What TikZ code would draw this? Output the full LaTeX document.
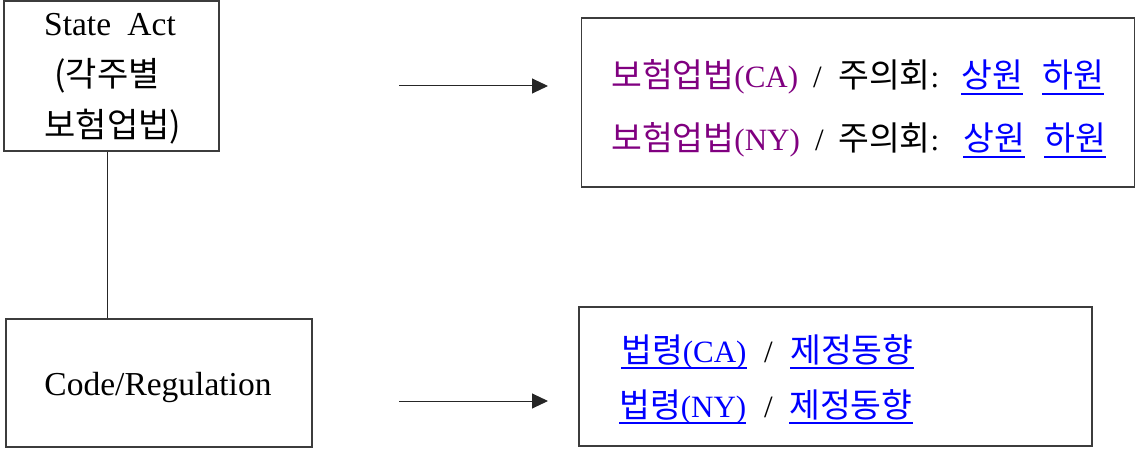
\documentclass[tikz,border=0pt]{standalone}
\usepackage{fontspec}
\setmainfont{Liberation Serif}
\newfontfamily\kr{Noto Sans CJK KR}
\usetikzlibrary{arrows.meta}
\definecolor{lawpurple}{RGB}{128,0,128}
\definecolor{linkblue}{RGB}{0,0,255}
\definecolor{boxgray}{RGB}{60,60,60}
\newcommand{\K}[1]{{\fontsize{33.5}{38}\selectfont\kr #1}}
\begin{document}
\begin{tikzpicture}[x=1pt,y=-1pt,
  box/.style={draw=boxgray,line width=1.2pt,rectangle,inner sep=0pt},
  txt/.style={inner sep=0pt,anchor=base west,font=\fontsize{31}{36}\selectfont},
  ctxt/.style={inner sep=0pt,anchor=base,font=\fontsize{33.5}{38}\selectfont},
  ckr/.style={inner sep=0pt,anchor=base,font=\fontsize{34}{38}\selectfont\kr},
  ul/.style={draw=linkblue,line width=1.6pt},
  arr/.style={draw=black!85,line width=1pt,-{Triangle[length=16pt,width=15pt]}}]
\useasboundingbox (0,0) rectangle (1136,449);
% boxes
\node[box,minimum width=215pt,minimum height=150pt] (sa) at (111.5,76) {};
\node[box,minimum width=306pt,minimum height=128pt] (cr) at (159,383) {};
\node[box,minimum width=553pt,minimum height=169pt] (tr) at (858,102.5) {};
\node[box,minimum width=513pt,minimum height=139pt] (br) at (835.5,376.5) {};
% left texts
\node[ctxt] (t1) at (110,36) {State\hspace{8pt} Act};
\node[ckr] (t2) at (107,87) {(각주별};
\node[ckr] (t3) at (113,138) {보험업법)};
\node[ctxt] (t4) at (158,395) {Code/Regulation};
% connector between left boxes
\coordinate (lk) at (107,0);
\draw[draw=black!85,line width=1pt] (sa.south -| lk) -- (cr.north -| lk);
% arrows
\coordinate (a1s) at (399,86); \coordinate (a1e) at (548,86);
\coordinate (a2s) at (399,401); \coordinate (a2e) at (548,401);
\draw[arr] (a1s) -- (a1e);
\draw[arr] (a2s) -- (a2e);
% top right lines
\node[txt,text=lawpurple] (p1) at (611,88) {\K{보험업법}(CA)};
\node[txt] (s1) at (813,88) {/};
\node[txt] (j1) at (838,88) {\K{주의회}:};
\node[txt,text=linkblue] (u1) at (961,88) {\K{상원}};
\node[txt,text=linkblue] (h1) at (1042,88) {\K{하원}};
\node[txt,text=lawpurple] (p2) at (611,151) {\K{보험업법}(NY)};
\node[txt] (s2) at (815,151) {/};
\node[txt] (j2) at (838,151) {\K{주의회}:};
\node[txt,text=linkblue] (u2) at (963,151) {\K{상원}};
\node[txt,text=linkblue] (h2) at (1044,151) {\K{하원}};
\foreach \n in {u1,h1,u2,h2}{
  \draw[ul] ([yshift=-6pt]\n.base west) -- ([yshift=-6pt]\n.base east);
}
% bottom right lines
\node[txt,text=linkblue] (b1) at (621,362) {\K{법령}(CA)};
\node[txt] (bs1) at (764,362) {/};
\node[txt,text=linkblue] (d1) at (790,362) {\K{제정동향}};
\node[txt,text=linkblue] (b2) at (619,417) {\K{법령}(NY)};
\node[txt] (bs2) at (764,417) {/};
\node[txt,text=linkblue] (d2) at (789,417) {\K{제정동향}};
\foreach \n in {b1,d1,b2,d2}{
  \draw[ul] ([yshift=-6pt]\n.base west) -- ([yshift=-6pt]\n.base east);
}
\end{tikzpicture}
\end{document}
